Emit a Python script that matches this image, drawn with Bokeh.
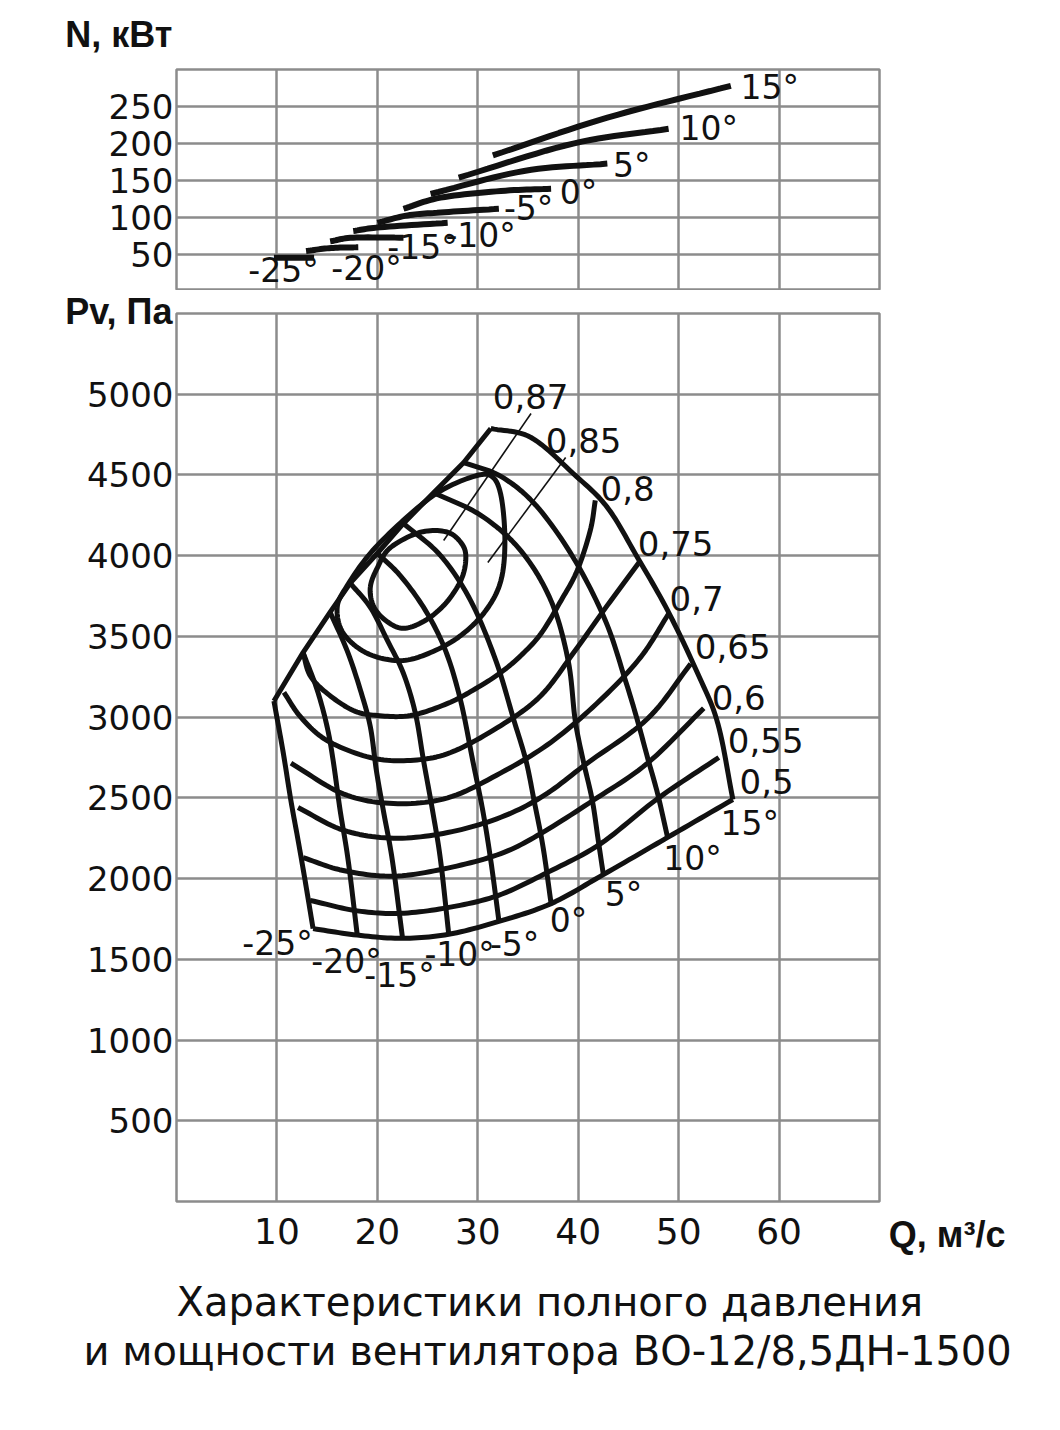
import numpy as np
from bokeh.plotting import figure
from bokeh.models import Range1d, FixedTicker, Label, Title
from bokeh.layouts import column
from bokeh.embed import file_html
from bokeh.resources import INLINE

# ---------------- data: power N(Q), kW, one curve per blade angle ----------------
N_Q_M25 = [9.7, 13.7];                 N_M25 = [46, 46]
N_Q_M20 = [12.9, 15.4, 18.1];          N_M20 = [55, 59, 60]
N_Q_M15 = [15.3, 17.6, 22.6];          N_M15 = [68, 73, 73]
N_Q_M10 = [17.6, 20.3, 27.0];          N_M10 = [82, 87, 93]
N_Q_M5 = [20.0, 23.0, 26.3, 32.1];     N_M5 = [93, 103, 107, 112]
N_Q_0 = [22.6, 26.3, 32.3, 37.3];      N_0 = [112, 127, 136, 139]
N_Q_5 = [25.3, 34.6, 42.9];            N_5 = [132, 163, 173]
N_Q_10 = [28.1, 39.5, 49.0];           N_10 = [154, 200, 220]
N_Q_15 = [31.5, 42.9, 55.2];           N_15 = [184, 235, 278]

# ---------------- data: total pressure Pv(Q), Pa, one curve per blade angle ----------------
P_Q_M25 = [9.7, 10.6, 11.4, 12.1, 12.8, 13.6]
P_M25 = [3100, 2790, 2480, 2240, 1990, 1690]
P_Q_M20 = [12.6, 14.0, 15.0, 15.6, 16.3, 17.1, 18.0]
P_M20 = [3400, 3170, 2940, 2730, 2420, 2110, 1650]
P_Q_M15 = [15.3, 17.0, 18.3, 19.3, 19.9, 20.6, 21.5, 22.5]
P_M15 = [3650, 3410, 3170, 2940, 2670, 2420, 2110, 1635]
P_Q_M10 = [17.3, 19.3, 21.0, 22.6, 23.8, 24.6, 25.5, 26.3, 27.1]
P_M10 = [3830, 3680, 3475, 3270, 3020, 2730, 2420, 2110, 1660]
P_Q_M5 = [20.0, 22.3, 24.8, 26.8, 28.3, 29.5, 30.5, 31.3, 32.1]
P_M5 = [4015, 3875, 3660, 3410, 3100, 2730, 2420, 2110, 1740]
P_Q_0 = [22.6, 26.3, 29.3, 31.8, 33.6, 34.8, 35.6, 36.5, 37.3]
P_0 = [4200, 4000, 3720, 3350, 2980, 2730, 2485, 2195, 1845]
P_Q_5 = [25.6, 30.3, 34.3, 37.3, 39.0, 39.7, 40.5, 41.4, 42.0, 42.5]
P_5 = [4390, 4250, 4030, 3720, 3350, 2980, 2730, 2485, 2235, 2025]
P_Q_10 = [28.6, 32.3, 35.8, 39.5, 42.7, 44.7, 45.9, 46.9, 47.9, 48.9]
P_10 = [4577, 4491, 4311, 3989, 3599, 3227, 2979, 2750, 2527, 2255]
P_Q_15 = [31.3, 35.3, 39.5, 42.9, 45.9, 48.9, 51.9, 53.9, 55.4]
P_15 = [4788, 4732, 4509, 4299, 3989, 3661, 3270, 2961, 2490]

ANGLE_LABELS = ["-25°", "-20°", "-15°", "-10°", "-5°", "0°", "5°", "10°", "15°"]

# ---------------- data: efficiency contours (Q, Pv) ----------------
E50_Q = [13.6, 18.0, 22.5, 27.1, 32.1, 37.3, 42.5, 48.9, 55.4]
E50_P = [1690, 1650, 1630, 1655, 1735, 1845, 2025, 2255, 2490]
E55_Q = [13.3, 18.0, 22.3, 27.0, 32.0, 37.0, 42.2, 47.9, 54.0]
E55_P = [1865, 1800, 1785, 1820, 1895, 2040, 2215, 2495, 2750]
E60_Q = [12.6, 16.6, 21.6, 27.0, 32.3, 36.3, 41.5, 46.9, 52.5]
E60_P = [2130, 2050, 2015, 2065, 2155, 2280, 2485, 2715, 3055]
E65_Q = [12.1, 16.6, 21.6, 27.0, 32.3, 36.6, 40.9, 46.9, 51.2]
E65_P = [2440, 2300, 2250, 2285, 2380, 2515, 2715, 2990, 3330]
E70_Q = [11.4, 16.6, 21.6, 27.0, 32.3, 37.3, 42.2, 46.2, 49.0]
E70_P = [2715, 2525, 2465, 2500, 2655, 2845, 3105, 3370, 3640]
E75_Q = [10.7, 12.4, 15.0, 19.3, 23.3, 27.3, 32.3, 36.3, 39.7, 42.9, 46.2]
E75_P = [3153, 2998, 2855, 2750, 2732, 2781, 2948, 3134, 3413, 3692, 3970]
E80_Q = [12.6, 13.3, 15.0, 17.6, 20.0, 23.3, 27.0, 30.0, 32.3, 34.3, 36.3, 38.3, 39.9, 41.2, 41.7]
E80_P = [3400, 3258, 3147, 3041, 3010, 3010, 3085, 3184, 3277, 3382, 3518, 3723, 3908, 4156, 4342]
E85_Q = [16.0, 17.0, 19.3, 22.6, 26.0, 29.3, 31.3, 32.3, 32.7, 32.3, 30.8, 28.3, 25.3, 22.3, 19.0, 16.6, 16.0]
E85_P = [3680, 3815, 4015, 4220, 4390, 4485, 4495, 4375, 4095, 3845, 3660, 3505, 3400, 3350, 3395, 3520, 3680]
E87_Q = [19.3, 20.0, 21.3, 24.3, 27.0, 28.5, 28.8, 28.3, 26.8, 24.8, 22.6, 20.8, 19.6, 19.3]
E87_P = [3805, 3925, 4050, 4145, 4145, 4065, 3970, 3845, 3705, 3600, 3550, 3600, 3690, 3805]

EFF_LABELS = ["0,5", "0,55", "0,6", "0,65", "0,7", "0,75", "0,8", "0,85", "0,87"]

# ticks
Q_TICKS = [10, 20, 30, 40, 50, 60]
N_TICKS = [50, 100, 150, 200, 250]
P_TICKS = [500, 1000, 1500, 2000, 2500, 3000, 3500, 4000, 4500, 5000]

CAPTION = ["Характеристики полного давления", "и мощности вентилятора ВО-12/8,5ДН-1500"]

# ---------------- styling / helpers ----------------
FONT = "DejaVu Sans"
BFONT = "Liberation Sans"
GRID = "#8c8c8c"
INK = "#111111"


def smooth(xs, ys, closed=False, steps=12):
    pts = np.column_stack([xs, ys]).astype(float)
    if closed:
        if np.allclose(pts[0], pts[-1]):
            pts = pts[:-1]
        n = len(pts)
        get = lambda i: pts[i % n]
        segs = list(range(n))
        last = pts[0]
    else:
        if len(pts) < 3:
            return pts[:, 0], pts[:, 1]
        n = len(pts)
        ext = np.vstack([2 * pts[0] - pts[1], pts, 2 * pts[-1] - pts[-2]])
        get = lambda i: ext[i + 1]
        segs = list(range(n - 1))
        last = pts[-1]
    out = []
    for i in segs:
        p0, p1, p2, p3 = get(i - 1), get(i), get(i + 1), get(i + 2)
        for t in np.linspace(0, 1, steps, endpoint=False):
            t2, t3 = t * t, t * t * t
            out.append(0.5 * ((2 * p1) + (-p0 + p2) * t + (2 * p0 - 5 * p1 + 4 * p2 - p3) * t2
                              + (-p0 + 3 * p1 - 3 * p2 + p3) * t3))
    out.append(last)
    out = np.array(out)
    return out[:, 0], out[:, 1]


def make_fig(height, yr, b_top, b_bottom):
    p = figure(width=1052, height=height, x_range=Range1d(0, 70), y_range=yr,
               output_backend="svg", toolbar_location=None,
               min_border_left=176, min_border_right=173,
               min_border_top=b_top, min_border_bottom=b_bottom)
    p.background_fill_color = "white"
    p.border_fill_color = "white"
    p.outline_line_color = GRID
    p.outline_line_width = 2.5
    for g in (p.xgrid, p.ygrid):
        g.grid_line_color = GRID
        g.grid_line_width = 2.5
    p.xgrid.ticker = FixedTicker(ticks=Q_TICKS)
    for ax in (p.xaxis, p.yaxis):
        ax.axis_line_color = None
        ax.major_tick_line_color = None
        ax.minor_tick_line_color = None
        ax.major_tick_out = 0
        ax.major_tick_in = 0
        ax.major_label_text_font = FONT
        ax.major_label_text_color = INK
    return p


def add_label(p, x, y, text, size="34px"):
    p.add_layout(Label(x=x, y=y, text=text, text_font=FONT, text_font_size=size,
                       text_align="center", text_baseline="middle", text_color=INK))


def side_title(text, align, offset, standoff, valign, font=BFONT, size="36px", style="bold"):
    return Title(text=text, align=align, offset=offset, standoff=standoff,
                 vertical_align=valign, text_font=font, text_font_size=size,
                 text_font_style=style, text_color=INK)


# ---------------- top chart: power ----------------
p1 = make_fig(290, Range1d(3, 300), 69, 1)
p1.xaxis.visible = False
p1.yaxis.ticker = FixedTicker(ticks=N_TICKS)
p1.ygrid.ticker = FixedTicker(ticks=N_TICKS)
p1.yaxis.major_label_text_font_size = "34px"
p1.yaxis.major_label_standoff = 3
p1.title = side_title("N, кВт", "right", 707, 25, "top")

power = [(N_Q_M25, N_M25), (N_Q_M20, N_M20), (N_Q_M15, N_M15), (N_Q_M10, N_M10),
         (N_Q_M5, N_M5), (N_Q_0, N_0), (N_Q_5, N_5), (N_Q_10, N_10), (N_Q_15, N_15)]
for q, n in power:
    xs, ys = smooth(q, n)
    p1.line(xs, ys, line_width=6, line_color=INK)

top_label_pos = [(10.66, 28.5), (18.92, 31.1), (24.50, 59.5), (30.28, 75.7), (35.06, 112.2),
                 (40.04, 133.8), (45.32, 170.3), (52.99, 220.3), (59.06, 275.7)]
for (x, y), t in zip(top_label_pos, ANGLE_LABELS):
    add_label(p1, x, y, t, size="33px")

# ---------------- main chart: pressure ----------------
p2 = make_fig(989, Range1d(0, 5500), 23, 78)
p2.yaxis.ticker = FixedTicker(ticks=P_TICKS)
p2.ygrid.ticker = FixedTicker(ticks=P_TICKS)
p2.xaxis.ticker = FixedTicker(ticks=Q_TICKS)
p2.yaxis.major_label_text_font_size = "34px"
p2.xaxis.major_label_text_font_size = "36px"
p2.yaxis.major_label_standoff = 3
p2.xaxis.major_label_standoff = 16
p2.title = side_title("Pv, Па", "right", 707, -41, "top")
p2.add_layout(side_title("Q, м³/с", "right", -126, -66, "top"), "below")

pressure = [(P_Q_M25, P_M25), (P_Q_M20, P_M20), (P_Q_M15, P_M15), (P_Q_M10, P_M10),
            (P_Q_M5, P_M5), (P_Q_0, P_0), (P_Q_5, P_5), (P_Q_10, P_10), (P_Q_15, P_15)]
for q, pv in pressure:
    xs, ys = smooth(q, pv)
    p2.line(xs, ys, line_width=5, line_color=INK, line_join="round")

# stall boundary through the upper ends of the blade-angle curves
p2.line([c[0][0] for c in pressure], [c[1][0] for c in pressure],
        line_width=5, line_color=INK, line_join="round")

open_eff = [(E50_Q, E50_P), (E55_Q, E55_P), (E60_Q, E60_P), (E65_Q, E65_P),
            (E70_Q, E70_P), (E75_Q, E75_P), (E80_Q, E80_P)]
for q, pv in open_eff:
    xs, ys = smooth(q, pv)
    p2.line(xs, ys, line_width=5, line_color=INK, line_join="round")
for q, pv in [(E85_Q, E85_P), (E87_Q, E87_P)]:
    xs, ys = smooth(q, pv, closed=True)
    p2.line(xs, ys, line_width=5, line_color=INK, line_join="round")

# leader lines for 0,87 and 0,85
p2.segment(x0=[26.6, 31.0], y0=[4094, 3958], x1=[35.3, 38.75], y1=[4881, 4608],
           line_width=1.6, line_color=INK)

eff_label_pos = [(58.76, 2601), (58.67, 2855), (55.98, 3122), (55.38, 3438), (51.79, 3735),
                 (49.70, 4076), (44.92, 4416), (40.54, 4714), (35.26, 4986)]
for (x, y), t in zip(eff_label_pos, EFF_LABELS):
    add_label(p2, x, y, t)

main_angle_pos = [(10.06, 1598), (16.93, 1487), (22.21, 1400), (28.19, 1530), (33.67, 1592),
                  (39.04, 1741), (44.52, 1902), (51.39, 2125), (57.07, 2341)]
for (x, y), t in zip(main_angle_pos, ANGLE_LABELS):
    add_label(p2, x, y, t, size="33px")


# ---------------- caption (two strips carrying one title line each) ----------------
def caption_strip(text, height, offset, standoff):
    p = figure(width=1052, height=height, x_range=Range1d(0, 1), y_range=Range1d(0, 1),
               output_backend="svg", toolbar_location=None,
               min_border_left=176, min_border_right=173, min_border_top=0, min_border_bottom=0)
    p.xaxis.visible = False
    p.yaxis.visible = False
    p.grid.visible = False
    p.outline_line_color = None
    p.background_fill_color = "white"
    p.border_fill_color = "white"
    p.title = side_title(text, "left", offset, standoff, "top", font=FONT, size="40px", style="normal")
    return p


p3 = caption_strip(CAPTION[0], 49, 0, -2)
p4 = caption_strip(CAPTION[1], 56, -93, -2)

layout = column(p1, p2, p3, p4, spacing=0)
open("out.html", "w").write(file_html(layout, INLINE))
